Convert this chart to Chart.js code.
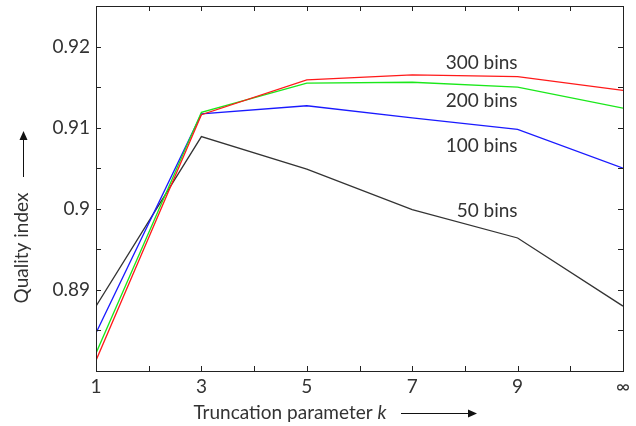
<!DOCTYPE html>
<html>
<head>
<meta charset="utf-8">
<script src="https://cdn.jsdelivr.net/npm/chart.js@4.4.0/dist/chart.umd.min.js"></script>
<style>
  html, body { margin: 0; padding: 0; background: #fff; }
  canvas { display: block; }
</style>
</head>
<body>
<canvas id="chart" width="636" height="426"></canvas>
<script>
/* ── Data ── */
const kValues = [1, 3, 5, 7, 9, 11];           // 11 stands for ∞
const bins50  = [0.8880, 0.9089, 0.9049, 0.8999, 0.8964, 0.8880];
const bins100 = [0.8847, 0.9117, 0.9127, 0.9112, 0.9098, 0.9050];
const bins200 = [0.8822, 0.9119, 0.9155, 0.9156, 0.9150, 0.9124];
const bins300 = [0.8813, 0.9116, 0.9159, 0.9165, 0.9163, 0.9146];

const seriesNames = ['300 bins', '200 bins', '100 bins', '50 bins'];
const labelY = [0.9180, 0.9133, 0.9078, 0.8997];  // annotation heights
const labelX = 9;                                 // annotations end at k = 9

const yTickLabels = [0.89, 0.9, 0.91, 0.92];
const xTickLabels = { 1: '1', 3: '3', 5: '5', 7: '7', 9: '9', 11: '\u221E' };

const FONT = 'Lato, "Open Sans", sans-serif';
const FS = 19;
const TEXT = '#333';

function points(vals) {
    return kValues.map((k, i) => ({ x: k, y: vals[i] }));
}

/* ── Frame and inward tick marks on all four sides ── */
const frameTicks = {
    id: 'frameTicks',
    afterDraw(chart) {
        const { ctx, chartArea: a, scales: { x, y } } = chart;
        ctx.save();
        ctx.strokeStyle = '#222';
        ctx.lineWidth = 1;
        ctx.strokeRect(Math.round(a.left) + 0.5, Math.round(a.top) + 0.5,
            Math.round(a.right - a.left), Math.round(a.bottom - a.top));
        const len = 5;
        y.ticks.forEach((t) => {
            const py = Math.round(y.getPixelForValue(t.value)) + 0.5;
            ctx.beginPath();
            ctx.moveTo(a.left, py); ctx.lineTo(a.left + len, py);
            ctx.moveTo(a.right, py); ctx.lineTo(a.right - len, py);
            ctx.stroke();
        });
        x.ticks.forEach((t) => {
            const px = Math.round(x.getPixelForValue(t.value)) + 0.5;
            ctx.beginPath();
            ctx.moveTo(px, a.bottom); ctx.lineTo(px, a.bottom - len);
            ctx.moveTo(px, a.top); ctx.lineTo(px, a.top + len);
            ctx.stroke();
        });
        ctx.restore();
    },
};

/* ── Series labels and axis titles with arrows ── */
function arrowHead(ctx, x, y, dir) {
    ctx.beginPath();
    if (dir === 'up') {
        ctx.moveTo(x, y); ctx.lineTo(x - 4, y + 9); ctx.lineTo(x + 4, y + 9);
    } else {
        ctx.moveTo(x, y); ctx.lineTo(x - 9, y - 4); ctx.lineTo(x - 9, y + 4);
    }
    ctx.closePath();
    ctx.fill();
}

const annotations = {
    id: 'annotations',
    afterDraw(chart) {
        const { ctx, scales: { x, y } } = chart;
        ctx.save();
        ctx.fillStyle = TEXT;
        ctx.font = FS + 'px ' + FONT;
        ctx.textAlign = 'right';
        ctx.textBaseline = 'middle';
        seriesNames.forEach((name, i) => {
            ctx.fillText(name, x.getPixelForValue(labelX), y.getPixelForValue(labelY[i]));
        });

        // x title: "Truncation parameter k" + arrow
        const ty = 413;
        const part1 = 'Truncation parameter ';
        ctx.font = FS + 'px ' + FONT;
        const w1 = ctx.measureText(part1).width;
        ctx.font = 'italic ' + FS + 'px ' + FONT;
        const w2 = ctx.measureText('k').width;
        const startX = 290 - (w1 + w2) / 2;
        ctx.textAlign = 'left';
        ctx.font = FS + 'px ' + FONT;
        ctx.fillText(part1, startX, ty);
        ctx.font = 'italic ' + FS + 'px ' + FONT;
        ctx.fillText('k', startX + w1, ty);

        ctx.strokeStyle = '#111';
        ctx.fillStyle = '#111';
        ctx.lineWidth = 1;
        ctx.beginPath();
        ctx.moveTo(401, ty + 0.5); ctx.lineTo(470, ty + 0.5);
        ctx.stroke();
        arrowHead(ctx, 477, ty + 0.5, 'right');

        // y title: "Quality index" + arrow
        ctx.fillStyle = TEXT;
        ctx.save();
        ctx.translate(22, 248);
        ctx.rotate(-Math.PI / 2);
        ctx.textAlign = 'center';
        ctx.font = FS + 'px ' + FONT;
        ctx.fillText('Quality index', 0, 0);
        ctx.restore();

        ctx.fillStyle = '#111';
        ctx.beginPath();
        ctx.moveTo(23.5, 177); ctx.lineTo(23.5, 139);
        ctx.stroke();
        arrowHead(ctx, 23.5, 131, 'up');
        ctx.restore();
    },
};

/* ── Chart ── */
const lineStyle = { borderWidth: 1.3, pointRadius: 0, tension: 0, fill: false };

new Chart(document.getElementById('chart'), {
    type: 'line',
    data: {
        datasets: [
            { label: '300 bins', data: points(bins300), borderColor: '#ff1a1a', ...lineStyle },
            { label: '200 bins', data: points(bins200), borderColor: '#1ae81a', ...lineStyle },
            { label: '100 bins', data: points(bins100), borderColor: '#1a1aff', ...lineStyle },
            { label: '50 bins',  data: points(bins50),  borderColor: '#333333', ...lineStyle },
        ],
    },
    options: {
        responsive: false,
        animation: false,
        devicePixelRatio: 1,
        layout: { padding: { top: 6, right: 13, left: 0, bottom: 0 } },
        plugins: { legend: { display: false }, tooltip: { enabled: false } },
        scales: {
            x: {
                type: 'linear',
                min: 1,
                max: 11,
                grid: { display: false, drawTicks: false },
                border: { display: true, color: '#222', width: 1 },
                ticks: {
                    stepSize: 1,
                    autoSkip: false,
                    maxRotation: 0,
                    padding: 4,
                    color: TEXT,
                    font: { family: FONT, size: FS },
                    callback: (v) => xTickLabels[v] || '',
                },
                afterFit: (s) => { s.height = 55; s.paddingLeft = 0; s.paddingRight = 0; },
            },
            y: {
                min: 0.88,
                max: 0.925,
                grid: { display: false, drawTicks: false },
                border: { display: true, color: '#222', width: 1 },
                ticks: {
                    stepSize: 0.005,
                    autoSkip: false,
                    padding: 6,
                    color: TEXT,
                    font: { family: FONT, size: FS },
                    callback: (v) => {
                        const r = Math.round(v * 1000) / 1000;
                        return yTickLabels.some((t) => Math.abs(t - r) < 1e-6) ? String(r) : '';
                    },
                },
                afterFit: (s) => { s.width = 96; s.paddingTop = 0; s.paddingBottom = 0; },
            },
        },
    },
    plugins: [frameTicks, annotations],
});
</script>
</body>
</html>
